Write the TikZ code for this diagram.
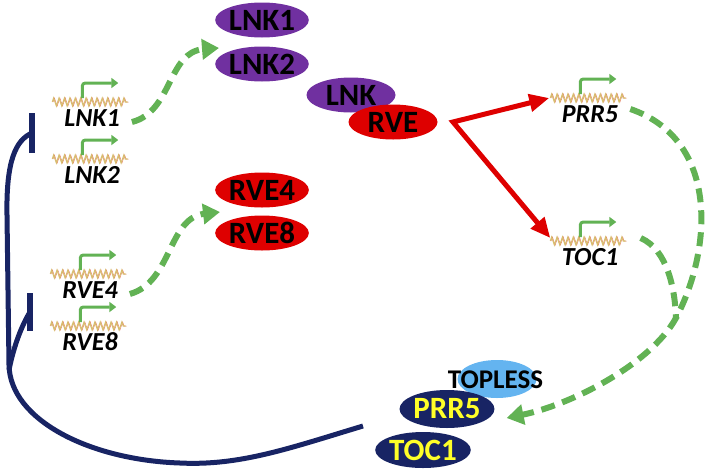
\documentclass[tikz,border=0pt]{standalone}
\usepackage{fontspec}
\setmainfont{Carlito}
\usetikzlibrary{shapes.geometric,arrows.meta,decorations.pathmorphing,calc}
\definecolor{gr}{RGB}{98,178,84}
\definecolor{nv}{RGB}{24,36,100}
\definecolor{pu}{RGB}{112,48,160}
\definecolor{rd}{RGB}{222,0,0}
\definecolor{lb}{RGB}{100,180,240}
\definecolor{yl}{RGB}{255,255,40}
\definecolor{dna}{RGB}{215,190,110}
\definecolor{dnb}{RGB}{230,120,100}
\newcommand\genemark[3]{%
  \node[dnastrip] (g#1) at (#2,#3) {};
  \draw[dnb, line width=0.5pt, decorate, decoration={zigzag,segment length=5.4pt,amplitude=4pt}] ($(g#1.west)+(0.8,0)$) -- ($(g#1.east)+(0.8,0)$);
  \draw[dna, line width=1.1pt, decorate, decoration={zigzag,segment length=5.4pt,amplitude=4pt}] (g#1.west) -- (g#1.east);
  \draw[garrow] ($(g#1.west)+(30,-4)$) -- ++(0,-15) -- ++(36,0);
  \node[glabel] (l#1) at (#2+2,#3+16) {#1};
}
\begin{document}
\begin{tikzpicture}[x=1pt,y=-1pt,
  prot/.style={ellipse, minimum width=89pt, minimum height=35pt, inner sep=0pt, font=\bfseries\fontsize{31}{31}\selectfont},
  glabel/.style={font=\bfseries\itshape\fontsize{26}{26}\selectfont, inner sep=0pt},
  dnastrip/.style={minimum width=75pt, minimum height=9pt, inner sep=0pt},
  garrow/.style={gr, line width=3pt, rounded corners=3pt, -{Triangle[length=7pt,width=10pt]}},
  act/.style={gr, line width=6pt, dash pattern=on 14pt off 8pt, -{Triangle[length=17pt,width=20pt]}},
  redarr/.style={rd, line width=5pt, {Triangle[length=20pt,width=17pt]}-{Triangle[length=20pt,width=17pt]}},
  inh/.style={nv, line width=5pt},
  tbar/.style={nv, line width=6pt}]
\useasboundingbox (0,0) rectangle (717,472);

% genes
\genemark{LNK1}{90}{102}
\genemark{LNK2}{90}{159}
\genemark{RVE4}{88}{274}
\genemark{RVE8}{88}{326}
\genemark{PRR5}{588}{98}
\genemark{TOC1}{588}{241}

% proteins
\node[prot, fill=pu] (LNK1) at (262,20) {LNK1};
\node[prot, fill=pu] (LNK2) at (262,64) {LNK2};
\node[prot, fill=pu] (LNK) at (351,95) {LNK};
\node[prot, fill=rd] (RVE) at (393,122) {RVE};
\node[prot, fill=rd] (RVE4) at (262,190) {RVE4};
\node[prot, fill=rd] (RVE8) at (262,233) {RVE8};

\node[prot, fill=lb, minimum width=79pt, minimum height=38pt] (TPL) at (497,379) {};
\node[prot, fill=nv, text=yl, minimum width=85pt, minimum height=38pt] (P5) at (447,409) {PRR5};
\node[prot, fill=nv, text=yl, minimum width=83pt, minimum height=36pt] (T1) at (423,450) {TOC1};
\node[font=\bfseries\fontsize{27}{27}\selectfont, inner sep=0pt] (TPLt) at (495.5,380) {TOPLESS};

% green activation arrows
\coordinate (lnkin) at (219,48);
\coordinate (rvein) at (220,212);
\draw[act] ($(lLNK1.east)+(12,4)$) .. controls (172,112) and (168,52) .. (lnkin);
\draw[act] ($(lRVE4.east)+(12,4)$) .. controls (172,282) and (168,218) .. (rvein);

\coordinate (jn) at (676,318);
\coordinate (p5in) at ($(P5.east)+(12,9)$);
\draw[act] ($(lPRR5.east)+(12,-5)$) .. controls (720,140) and (712,250) .. (jn) .. controls (650,365) and (570,405) .. (p5in);
\draw[gr, line width=6pt, dash pattern=on 14pt off 8pt] ($(gTOC1.east)+(15,-3)$) .. controls (668,250) and (675,290) .. (jn);

% red arrows
\coordinate (rj) at (453,122);
\draw[redarr] ($(gPRR5.west)+(-1,0)$) -- (rj) -- ($(gTOC1.west)+(0,-3)$);

% blue repression
\coordinate (bs) at ($(T1.west)+(-12,-24)$);
\coordinate (ub) at (32,133);
\coordinate (lbb) at (30,312);
\draw[inh] (bs) .. controls (290,448) and (240,466) .. (180,463) .. controls (90,460) and (10,420) .. (9,365) -- (7,215) .. controls (6,160) and (16,140) .. (ub);
\draw[inh] (9,370) .. controls (14,345) and (22,325) .. (lbb);
\draw[tbar] ($(ub)+(0,-20)$) -- ($(ub)+(0,20)$);
\draw[tbar] ($(lbb)+(0,-19)$) -- ($(lbb)+(0,19)$);
\end{tikzpicture}
\end{document}
